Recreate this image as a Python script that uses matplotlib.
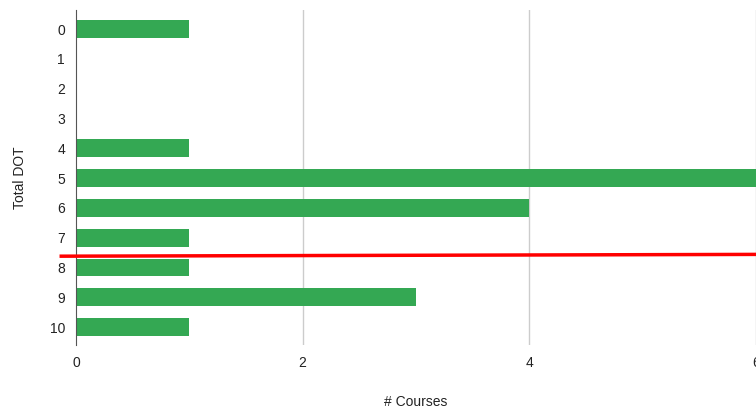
import matplotlib
matplotlib.use("Agg")
import matplotlib.pyplot as plt

plt.rcParams['font.family'] = ['Liberation Sans', 'DejaVu Sans']

# data
total_dot = [0, 1, 2, 3, 4, 5, 6, 7, 8, 9, 10]
courses = [1, 0, 0, 0, 1, 6, 4, 1, 1, 3, 1]
cutoff_y = [7.62, 7.56]

fig = plt.figure(figsize=(7.56, 4.08), dpi=100)
ax = fig.add_axes([76 / 756, 63 / 408, 680 / 756, 335 / 408])

ax.barh(total_dot, courses, height=0.6, color='#34a853', zorder=3)

ax.set_xlim(0, 6)
ax.set_ylim(10.6, -0.64)
ax.set_xticks([0, 2, 4, 6])
ax.set_yticks(total_dot)
ax.tick_params(length=0, labelsize=10, colors='#222222')
ax.tick_params(axis='x', pad=8)
ax.tick_params(axis='y', pad=8)

ax.grid(axis='x', color='#cccccc', linewidth=1, zorder=0)
ax.xaxis.get_gridlines()[0].set_visible(False)
for side in ['top', 'right', 'bottom']:
    ax.spines[side].set_visible(False)
ax.spines['left'].set_color('#555555')
ax.spines['left'].set_zorder(4)

ax.set_xlabel('# Courses', fontsize=10, color='#222222', labelpad=18)
ax.set_ylabel('Total DOT', fontsize=10, color='#222222', labelpad=16)

# red cutoff line drawn over the chart
ax.plot([-0.13, 6.0], cutoff_y, color='#ff0000', linewidth=2.5, clip_on=False, zorder=5)

fig.savefig('out.png', dpi=100)
